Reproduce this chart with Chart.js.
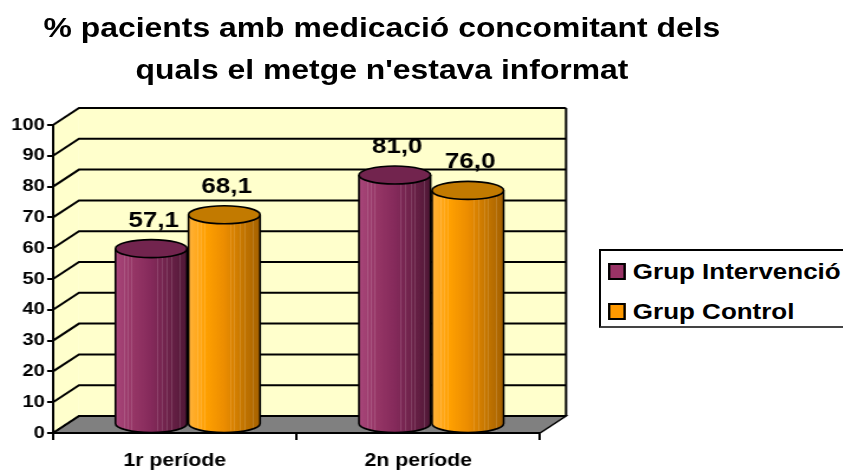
<!DOCTYPE html>
<html>
<head>
<meta charset="utf-8">
<script src="https://cdn.jsdelivr.net/npm/chart.js@4.4.1/dist/chart.umd.min.js"></script>
<style>
  html, body { margin: 0; padding: 0; background: #fff; overflow: hidden; }
  /* the source picture is stretched sideways, so the whole chart is too */
  #wrap { position: relative; width: 714px; height: 470px; transform: scaleX(1.1807); transform-origin: 0 0; }
  #chart { position: absolute; left: 0; top: 0; }
  .title { position: absolute; left: 0; top: 7px; width: 647px; text-align: center;
    font: bold 27px 'Liberation Sans', Arial, sans-serif; line-height: 42px; color: #000; }
  .legend { position: absolute; left: 507px; top: 249px; width: 260px; height: 79px; box-sizing: border-box;
    border: 2px solid #000; border-bottom-color: #444; background: #fff;
    font: bold 22px 'Liberation Sans', Arial, sans-serif; line-height: 22px; color: #000; }
  .legend .sw { position: absolute; left: 6px; width: 11px; height: 13px; border: 2px solid #000; }
  .legend .lb { position: absolute; left: 27px; white-space: nowrap; }
</style>
</head>
<body>
<div id="wrap">
  <canvas id="chart" width="714" height="470"></canvas>
  <div class="title">% pacients amb medicació concomitant dels<br>quals el metge n'estava informat</div>
  <div class="legend" id="legend"></div>
</div>
<script>
// Chart data
const categories = ['1r període', '2n període'];
const seriesNames = ['Grup Intervenció', 'Grup Control'];
const intervencio = [57.1, 81.0];
const control = [68.1, 76.0];
const yTicks = [0, 10, 20, 30, 40, 50, 60, 70, 80, 90, 100];

const baseColors = ['#993366', '#FF9900'];
const bodyStops = [
  ['#A8467A', '#963666', '#852A5B', '#6C2249', '#4F1735'],
  ['#FFB23A', '#FFA000', '#EC8D00', '#C67700', '#A56100']
];
const capColors = ['#72244E', '#C27A00'];

// depth of the 3D box (back wall offset from the front axes)
const DX = 22;
const DY = -17;

function fmt(v) {
  return v.toFixed(1).replace('.', ',');
}

// Walls, floor and cylinders
const box3d = {
  id: 'box3d',
  beforeDraw(chart) {
    const { ctx, chartArea: a, scales: { y } } = chart;
    ctx.save();
    ctx.fillStyle = '#FFFFCC';
    // side wall
    ctx.beginPath();
    ctx.moveTo(a.left, a.bottom);
    ctx.lineTo(a.left, a.top);
    ctx.lineTo(a.left + DX, a.top + DY);
    ctx.lineTo(a.left + DX, a.bottom + DY);
    ctx.closePath();
    ctx.fill();
    // back wall
    ctx.fillRect(a.left + DX, a.top + DY, a.right - a.left, a.bottom - a.top);
    // floor
    ctx.beginPath();
    ctx.moveTo(a.left, a.bottom);
    ctx.lineTo(a.right, a.bottom);
    ctx.lineTo(a.right + DX, a.bottom + DY);
    ctx.lineTo(a.left + DX, a.bottom + DY);
    ctx.closePath();
    ctx.fillStyle = '#808080';
    ctx.fill();
    ctx.strokeStyle = '#000';
    ctx.lineWidth = 1.5;
    ctx.stroke();

    // gridlines along side wall and back wall
    ctx.lineWidth = 2;
    yTicks.forEach(v => {
      const py = y.getPixelForValue(v);
      ctx.beginPath();
      ctx.moveTo(a.left, py);
      ctx.lineTo(a.left + DX, py + DY);
      ctx.lineTo(a.right + DX, py + DY);
      ctx.stroke();
    });
    // right edge of back wall
    ctx.beginPath();
    ctx.moveTo(a.right + DX, a.top + DY);
    ctx.lineTo(a.right + DX, a.bottom + DY);
    ctx.stroke();
    ctx.restore();
  },
  beforeDatasetsDraw(chart) {
    chart.ctx.save();
    chart.ctx.translate(DX / 2, DY / 2);
  },
  afterDatasetsDraw(chart) {
    const ctx = chart.ctx;
    ctx.restore();
    ctx.save();
    categories.forEach((c, i) => {
      chart.data.datasets.forEach((ds, d) => {
        const el = chart.getDatasetMeta(d).data[i];
        const p = el.getProps(['x', 'y', 'base', 'width'], true);
        const cx = p.x + DX / 2;
        const top = p.y + DY / 2;
        const base = p.base + DY / 2;
        const rx = p.width / 2;
        const ry = 9;

        const g = ctx.createLinearGradient(cx - rx, 0, cx + rx, 0);
        bodyStops[d].forEach((col, k) => g.addColorStop(k / 4, col));

        ctx.beginPath();
        ctx.moveTo(cx - rx, top);
        ctx.lineTo(cx - rx, base);
        ctx.ellipse(cx, base, rx, ry, 0, Math.PI, 0, true);
        ctx.lineTo(cx + rx, top);
        ctx.closePath();
        ctx.fillStyle = g;
        ctx.fill();

        // faint vertical banding like the original
        ctx.strokeStyle = 'rgba(255,255,255,0.13)';
        ctx.lineWidth = 1;
        [0.12, 0.17, 0.22, 0.58, 0.64, 0.72, 0.78, 0.9].forEach(f => {
          const lx = Math.round(cx - rx + f * 2 * rx) + 0.5;
          ctx.beginPath();
          ctx.moveTo(lx, top);
          ctx.lineTo(lx, base + ry * 0.8);
          ctx.stroke();
        });

        ctx.beginPath();
        ctx.moveTo(cx - rx, top);
        ctx.lineTo(cx - rx, base);
        ctx.ellipse(cx, base, rx, ry, 0, Math.PI, 0, true);
        ctx.lineTo(cx + rx, top);
        ctx.strokeStyle = '#000';
        ctx.lineWidth = 1.6;
        ctx.stroke();

        // top cap
        ctx.beginPath();
        ctx.ellipse(cx, top, rx, ry, 0, 0, Math.PI * 2);
        ctx.fillStyle = capColors[d];
        ctx.fill();
        ctx.stroke();

        // value label
        ctx.fillStyle = '#000';
        ctx.font = 'bold 22px "Liberation Sans", Arial, sans-serif';
        ctx.textAlign = 'center';
        ctx.textBaseline = 'alphabetic';
        ctx.fillText(fmt(ds.data[i]), cx + 2, top - ry - 13);
      });
    });
    ctx.restore();
  }
};

const ctx = document.getElementById('chart').getContext('2d');
const chart = new Chart(ctx, {
  type: 'bar',
  data: {
    labels: categories,
    datasets: [
      { label: seriesNames[0], data: intervencio, backgroundColor: baseColors[0], borderWidth: 0 },
      { label: seriesNames[1], data: control, backgroundColor: baseColors[1], borderWidth: 0 }
    ]
  },
  options: {
    responsive: false,
    animation: false,
    devicePixelRatio: 1,
    layout: { padding: { top: 125, left: 0, right: 256.6, bottom: 0 } },
    datasets: { bar: { categoryPercentage: 0.6, barPercentage: 0.98 } },
    plugins: {
      legend: { display: false },
      title: { display: false },
      tooltip: { enabled: false }
    },
    scales: {
      x: {
        afterFit(scale) { scale.height = 37; },
        grid: { drawOnChartArea: false, drawTicks: true, tickLength: 7, color: '#000', lineWidth: 2, offset: true },
        border: { display: true, color: '#000', width: 2 },
        ticks: {
          color: '#000',
          padding: 10,
          font: { family: "'Liberation Sans', Arial, sans-serif", size: 18, weight: 'bold' }
        }
      },
      y: {
        min: 0,
        max: 100,
        afterFit(scale) { scale.width = 44.9; },
        afterBuildTicks(scale) { scale.ticks = yTicks.map(v => ({ value: v })); },
        grid: { drawOnChartArea: false, drawTicks: true, tickLength: 5, color: '#000', lineWidth: 2 },
        border: { display: true, color: '#000', width: 2 },
        ticks: {
          color: '#000',
          padding: 2,
          font: { family: "'Liberation Sans', Arial, sans-serif", size: 17, weight: 'bold' }
        }
      }
    }
  },
  plugins: [box3d]
});

// HTML legend from the dataset list
const legendEl = document.getElementById('legend');
legendEl.innerHTML = chart.data.datasets.map((ds, i) => `
  <span class="sw" style="top:${12 + i * 40}px;background:${ds.backgroundColor}"></span>
  <span class="lb" style="top:${10 + i * 40}px">${ds.label}</span>
`).join('');
</script>
</body>
</html>
